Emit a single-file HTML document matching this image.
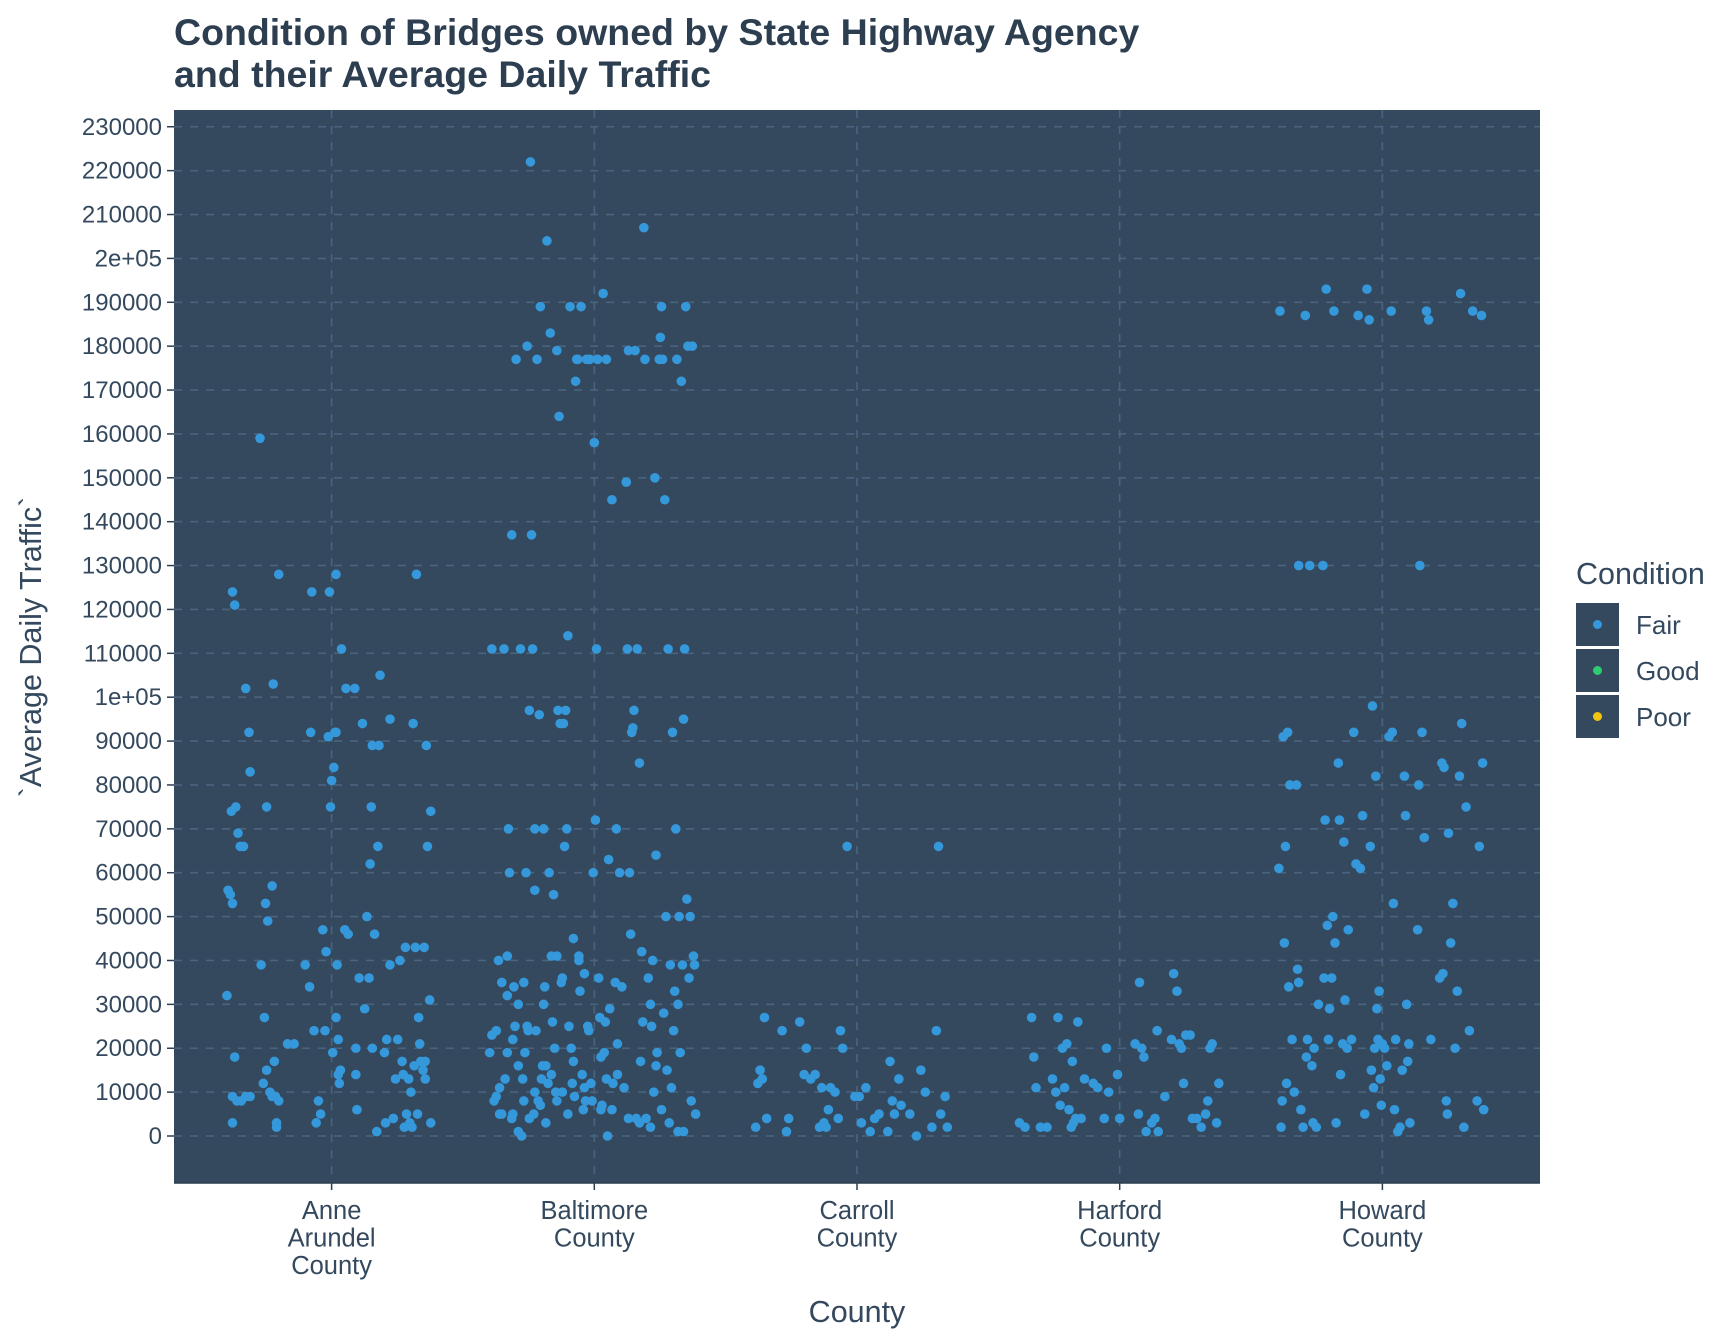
<!DOCTYPE html>
<html><head><meta charset="utf-8"><style>
html,body{margin:0;padding:0;background:#fff;}
svg{display:block;font-family:"Liberation Sans",Arial,sans-serif;}
</style></head><body>
<svg id="chart" width="1728" height="1344" viewBox="0 0 1728 1344">
<text x="174" y="45" font-size="37.5" font-weight="bold" fill="#2c3e50">Condition of Bridges owned by State Highway Agency</text>
<text x="174" y="87" font-size="37.5" font-weight="bold" fill="#2c3e50">and their Average Daily Traffic</text>
<rect x="174" y="110" width="1366" height="1073" fill="#34495e"/>
<g id="grid"></g>
<g id="points"></g>
<g id="yaxis"></g>
<g id="xaxis"></g>
<line x1="174" y1="1183" x2="1540" y2="1183" stroke="#2c3e50" stroke-width="1.5"/>
<text transform="translate(41,647) rotate(-90)" text-anchor="middle" font-size="30.5" fill="#34495e">`Average Daily Traffic`</text>
<text x="857" y="1322" text-anchor="middle" font-size="30.5" fill="#34495e">County</text>
<g>
<text x="1576" y="584" font-size="30.5" fill="#34495e">Condition</text>
<g><rect x="1576" y="603" width="43" height="43" fill="#34495e"/><circle cx="1597.5" cy="624.5" r="4.5" fill="#3498db"/><text x="1636" y="634" font-size="26" fill="#34495e">Fair</text></g>
<g><rect x="1576" y="649" width="43" height="43" fill="#34495e"/><circle cx="1597.5" cy="670.5" r="4.5" fill="#2ecc71"/><text x="1636" y="680" font-size="26" fill="#34495e">Good</text></g>
<g><rect x="1576" y="695" width="43" height="43" fill="#34495e"/><circle cx="1597.5" cy="716.5" r="4.5" fill="#f1c40f"/><text x="1636" y="726" font-size="26" fill="#34495e">Poor</text></g>
</g>
</svg>
<script>
const categories = [["Anne","Arundel","County"],["Baltimore","County"],["Carroll","County"],["Harford","County"],["Howard","County"]];
const yTicks = [0,10000,20000,30000,40000,50000,60000,70000,80000,90000,100000,110000,120000,130000,140000,150000,160000,170000,180000,190000,200000,210000,220000,230000];
const yTickLabels = ["0","10000","20000","30000","40000","50000","60000","70000","80000","90000","1e+05","110000","120000","130000","140000","150000","160000","170000","180000","190000","2e+05","210000","220000","230000"];
// jitter offsets (in 1/238.5 category units) and ADT values (thousands)
const anneJitter = [-95,-90,-88,-91,-87,-94,-92,-90,-85,-83,-80,-78,-75,-74,-65,-64,-61,-59,-60,-58,-54,-53,-48,-88,-90,-86,-82,-78,-74,-90,-62,-59,-56,-54,-51,-48,-52,-50,-50,-40,-34,-24,-20,-19,-18,-16,-14,-12,-10,-8,-6,-5,-3,-2,-1,0,1,2,3,4,4,4,5,6,6,7,8,9,12,13,15,21,22,22,23,25,28,30,32,34,35,36,37,37,39,41,42,43,44,48,49,50,53,53,56,58,60,62,64,65,66,67,68,70,71,72,74,75,76,77,79,80,81,83,84,85,85,86,87,89,90,90,78,73];
const anneValues = [32,124,121,74,75,56,55,53,69,66,66,102,92,83,159,39,27,75,53,49,57,103,128,18,9,8,8,9,9,3,12,15,10,9,9,8,17,3,2,21,21,39,34,92,124,24,3,8,5,47,24,42,91,124,75,81,19,84,92,92,128,27,39,22,14,12,15,111,47,102,46,102,20,14,6,36,94,29,50,36,62,75,89,20,46,1,66,89,105,19,3,22,95,39,4,13,22,40,17,14,2,43,5,13,3,10,94,16,43,128,27,21,17,15,43,17,13,89,66,31,74,3,5,2];
const baltJitter = [-95,-93,-93,-91,-89,-87,-86,-86,-84,-82,-81,-79,-79,-78,-77,-75,-75,-74,-73,-72,-71,-69,-69,-67,-66,-65,-64,-63,-62,-61,-61,-60,-59,-58,-57,-56,-55,-54,-54,-53,-52,-51,-50,-49,-48,-47,-46,-46,-45,-44,-43,-42,-41,-40,-39,-38,-37,-36,-35,-34,-34,-33,-32,-31,-30,-29,-28,-27,-26,-25,-24,-23,-22,-21,-20,-19,-18,-17,-16,-15,-14,-13,-12,-11,-10,-9,-8,-7,-6,-5,-4,-3,-2,-1,0,1,2,3,4,5,6,7,8,9,10,11,12,13,14,16,17,19,20,21,23,25,27,29,30,31,32,33,34,35,36,37,38,39,41,42,43,44,45,46,47,49,51,52,53,54,55,56,57,59,60,61,62,63,64,65,66,67,68,69,70,71,72,73,74,75,76,77,78,79,80,81,82,83,84,85,86,87,88,89,90,91,92,81,76,61,56,51,41,31,21,16,11,6,-9,-14,-19,-24,-29,-34,-39,-44,-49,-54,-59,-64,-69,-74,-79,-84,-89];
const baltValues = [19,23,111,8,24,40,11,5,35,111,13,19,41,70,60,137,4,22,34,25,177,30,1,111,0,13,35,19,60,25,180,24,97,222,137,111,5,70,56,24,177,8,96,189,13,16,70,30,34,3,204,12,60,183,41,26,55,20,10,8,179,97,164,94,35,10,94,66,97,70,114,25,189,20,12,45,9,172,177,177,40,33,189,14,6,37,8,177,25,24,177,12,8,60,158,72,111,177,36,27,18,7,192,19,26,177,0,63,29,145,12,35,70,21,60,34,11,149,111,179,60,46,92,93,97,179,4,111,85,17,42,26,207,177,4,36,30,25,40,10,150,64,19,177,182,189,177,28,145,50,15,111,3,39,11,92,24,33,70,177,1,50,19,172,39,95,111,189,54,180,36,50,8,180,41,39,5,1,30,6,16,2,3,4,14,6,13,6,11,41,17,5,36,41,14,16,7,10,4,8,16,5,32,5,9];
const carrollJitter = [-92,-90,-88,-86,-84,-82,-68,-64,-62,-52,-48,-46,-42,-38,-34,-32,-30,-28,-26,-24,-20,-17,-15,-13,-9,-2,2,4,8,12,16,20,28,30,32,34,38,40,48,54,58,62,68,72,74,76,80,82];
const carrollValues = [2,12,15,13,27,4,24,1,4,26,14,20,13,14,2,11,3,2,6,11,10,4,24,20,66,9,9,3,11,1,4,5,1,17,8,5,13,7,5,0,15,10,2,24,66,5,9,2];
const harfordJitter = [-91,-86,-80,-78,-76,-72,-66,-61,-58,-56,-54,-52,-50,-48,-46,-44,-43,-42,-40,-38,-35,-32,-24,-20,-14,-12,-10,-2,0,14,17,18,20,22,24,29,32,34,35,41,47,49,52,54,56,58,60,64,66,70,74,78,80,82,84,88,90];
const harfordValues = [3,2,27,18,11,2,2,13,10,27,7,20,11,21,6,2,17,3,4,26,4,13,12,11,4,20,10,14,4,21,5,35,20,18,1,3,4,24,1,9,22,37,33,21,20,12,23,23,4,4,2,5,8,20,21,3,12];
const howardJitter = [-94,-93,-92,-91,-90,-89,-88,-87,-86,-85,-84,-82,-80,-78,-77,-76,-76,-74,-72,-70,-69,-68,-66,-64,-63,-62,-60,-58,-54,-53,-52,-51,-50,-49,-48,-46,-45,-44,-43,-42,-40,-39,-38,-36,-35,-34,-32,-31,-28,-26,-24,-22,-20,-18,-16,-14,-12,-11,-10,-9,-8,-7,-6,-5,-4,-3,-2,-1,0,2,4,6,8,9,10,11,12,14,16,18,20,21,22,23,24,25,32,33,34,36,38,40,42,44,52,54,55,56,58,59,60,62,64,66,68,70,71,72,74,76,79,82,86,88,90,91,92];
const howardValues = [61,188,2,8,91,44,66,12,92,34,80,22,10,80,38,35,130,6,2,187,18,22,130,16,3,20,2,30,130,36,72,193,48,22,29,36,50,188,44,3,85,72,14,21,67,31,20,47,22,92,62,187,61,73,5,193,186,66,15,98,11,20,82,29,22,33,13,7,21,20,16,91,188,92,53,6,22,1,2,15,82,73,30,17,21,3,47,80,130,92,68,188,186,22,36,85,37,84,8,5,69,44,53,20,33,82,192,94,2,75,24,188,8,66,187,85,6];

const NS = "http://www.w3.org/2000/svg";
const PL = 174, PR = 1540, PT = 110, PB = 1183;
const catW = (PR - PL) / 5.2;
function xScale(i, j) { return PL + (i + 0.6 + j) * catW; }
function yScale(v) { return 1136 - v / 10000 * 43.88; }
function mk(tag, attrs, parent) { const e = document.createElementNS(NS, tag); for (const k in attrs) e.setAttribute(k, attrs[k]); parent.appendChild(e); return e; }

const grid = document.getElementById('grid');
const yaxis = document.getElementById('yaxis');
const xaxis = document.getElementById('xaxis');
yTicks.forEach((t, k) => {
  const y = yScale(t);
  const g = mk('line', {x1: PL, x2: PR, y1: y, y2: y, stroke: '#4a6480', 'stroke-width': 1.6, 'stroke-dasharray': '8,8'}, grid);
  
  
  const tk = mk('line', {x1: PL - 7, x2: PL, y1: y, y2: y, stroke: '#2c3e50', 'stroke-width': 1.5}, yaxis);
  
  
  const tx = mk('text', {x: PL - 12, y: y + 8, 'text-anchor': 'end', 'font-size': 24, fill: '#34495e'}, yaxis);
  tx.textContent = yTickLabels[k];
  
  
});
categories.forEach((c, i) => {
  const x = xScale(i, 0);
  const g = mk('line', {x1: x, x2: x, y1: PT, y2: PB, stroke: '#4a6480', 'stroke-width': 1.6, 'stroke-dasharray': '8,8'}, grid);
  
  
  const tk = mk('line', {x1: x, x2: x, y1: PB, y2: PB + 7, stroke: '#2c3e50', 'stroke-width': 1.5}, xaxis);
  
  
  c.forEach((line, l) => {
    const tx = mk('text', {x: x, y: 1219 + l * 27.5, 'text-anchor': 'middle', 'font-size': 25.5, fill: '#34495e'}, xaxis);
    tx.textContent = line;
    
    
  });
});
const pts = document.getElementById('points');
const series = [[anneJitter, anneValues], [baltJitter, baltValues], [carrollJitter, carrollValues], [harfordJitter, harfordValues], [howardJitter, howardValues]];
series.forEach((s, i) => {
  const n = Math.min(s[0].length, s[1].length);
  for (let k = 0; k < n; k++) {
    const c = mk('circle', {cx: xScale(i, s[0][k] / 238.5), cy: yScale(s[1][k] * 1000), r: 4.8, fill: '#3498db'}, pts);
    
    
  }
});
</script>
</body></html>
